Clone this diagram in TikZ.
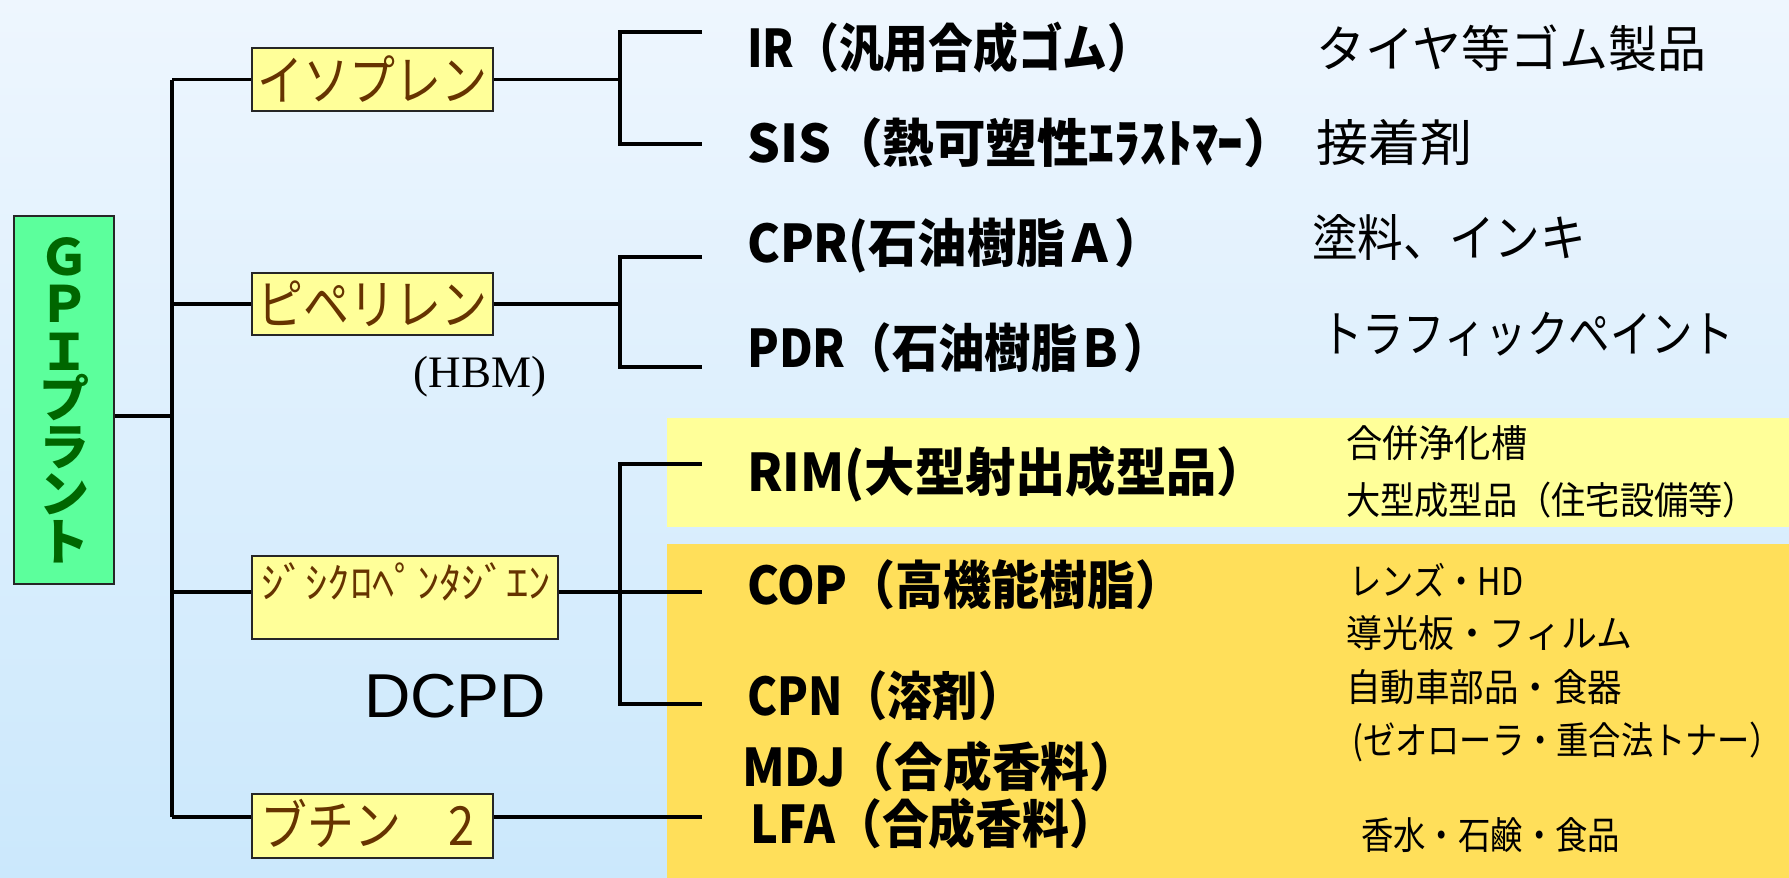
\documentclass[tikz,border=0pt]{standalone}
\usepackage{fontspec}
\usepackage{graphicx}
\newfontfamily\jp{Noto Sans CJK JP}
\newfontfamily\serifen{Liberation Serif}
\newfontfamily\sansen{Liberation Sans}
\newcommand{\fitw}[2]{\resizebox{#1}{\height}{#2}}
\definecolor{bgtop}{HTML}{EEF6FE}
\definecolor{bgbot}{HTML}{CBE8FC}
\definecolor{gpifill}{HTML}{5CFF9C}
\definecolor{gpitext}{HTML}{006600}
\definecolor{boxyel}{HTML}{FFFF99}
\definecolor{boxtext}{HTML}{663300}
\definecolor{bandA}{HTML}{FFFF99}
\definecolor{bandB}{HTML}{FFDF5A}
\tikzset{
  conn/.style={line width=3.6pt, draw=black, line join=miter},
  srcbox/.style={draw=black!85, line width=1.5pt, fill=boxyel, text=boxtext, inner sep=0pt,
    minimum width=241pt, font=\jp\fontsize{54}{54}\selectfont},
  prod/.style={anchor=west, inner sep=0pt, font=\jp\bfseries\fontsize{52}{52}\selectfont},
  usebig/.style={anchor=west, inner sep=0pt, font=\jp\fontsize{50}{50}\selectfont},
  usesmall/.style={anchor=west, inner sep=0pt, font=\jp\fontsize{38}{38}\selectfont},
}
\begin{document}
\begin{tikzpicture}[x=1pt,y=-1pt]
\useasboundingbox (0,0) rectangle (1789,878);
\shade[top color=bgtop, middle color=white, bottom color=bgbot] (0,0) rectangle (1789,878);
% bands
\fill[bandA] (667,418) rectangle (1789,527);
\fill[bandB] (667,544) rectangle (1789,878);

% root
\node[draw=black!85, line width=1.5pt, fill=gpifill, text=gpitext, minimum width=100pt, minimum height=368pt,
  inner sep=0pt, align=center, font=\jp\bfseries\fontsize{50}{47.5}\selectfont] (gpi) at (64,400)
  {Ｇ\\Ｐ\\Ｉ\\プ\\ラ\\ン\\ト};

% source boxes
\node[srcbox, minimum height=63pt] (iso) at (372.5,79.5) {\fitw{230pt}{イソプレン}};
\node[srcbox, minimum height=62pt] (pip) at (372.5,304) {\fitw{230pt}{ピペリレン}};
\node[srcbox, minimum width=306pt, minimum height=83pt] (dcp) at (405,597.5) {};
\node[inner sep=0pt, text=boxtext, font=\jp\fontsize{42}{42}\selectfont] (dcpt) at (406,582) {\fitw{290pt}{ｼﾞｼｸﾛﾍﾟﾝﾀｼﾞｴﾝ}};
\node[srcbox, minimum height=64pt] (but) at (372.5,826) {};
\node[anchor=west, inner sep=0pt, text=boxtext, font=\jp\fontsize{54}{54}\selectfont] (butt) at (260,823) {\fitw{214pt}{ブチン　2}};

\node[inner sep=0pt, font=\serifen\fontsize{45}{45}\selectfont] (hbm) at (480,377) {(HBM)};
\node[inner sep=0pt, font=\sansen\fontsize{62}{62}\selectfont] (dcpd) at (455,696) {\fitw{182pt}{DCPD}};

% trunk coordinates
\coordinate (tI) at (172,79.5);
\coordinate (tP) at (172,304);
\coordinate (tD) at (172,592);
\coordinate (tB) at (172,817);
\coordinate (tG) at (172,416);
\draw[conn] (tI) -- (tB);
\draw[conn] (tI) -- (iso.west);
\draw[conn] (tP) -- (pip.west);
\draw[conn] (tD) -- (dcp.west |- tD);
\draw[conn] (tB) -- (but.west |- tB);
\draw[conn] (gpi.east |- tG) -- (tG);

% second level
\coordinate (jI) at (620,79.5);
\coordinate (jIa) at (620,32);  \coordinate (eIa) at (702,32);
\coordinate (jIb) at (620,144); \coordinate (eIb) at (702,144);
\draw[conn] (iso.east) -- (jI);
\draw[conn] (eIa) -- (jIa) -- (jIb) -- (eIb);

\coordinate (jP) at (620,304);
\coordinate (jPa) at (620,257); \coordinate (ePa) at (702,257);
\coordinate (jPb) at (620,367); \coordinate (ePb) at (702,367);
\draw[conn] (pip.east) -- (jP);
\draw[conn] (ePa) -- (jPa) -- (jPb) -- (ePb);

\coordinate (jD) at (620,592); \coordinate (eD) at (702,592);
\coordinate (jDa) at (620,464); \coordinate (eDa) at (702,464);
\coordinate (jDb) at (620,704); \coordinate (eDb) at (702,704);
\draw[conn] (dcp.east |- jD) -- (eD);
\draw[conn] (eDa) -- (jDa) -- (jDb) -- (eDb);

\coordinate (eB) at (702,817);
\draw[conn] (but.east |- eB) -- (eB);

% products
\node[prod] (ir)  at (747,48)  {\fitw{405pt}{IR（汎用合成ゴム）}};
\node[prod] (sis) at (747,143) {\fitw{548pt}{SIS（熱可塑性ｴﾗｽﾄﾏｰ）}};
\node[prod] (cpr) at (747,245) {\fitw{417pt}{CPR(石油樹脂Ａ）}};
\node[prod] (pdr) at (747,348) {\fitw{423pt}{PDR（石油樹脂Ｂ）}};
\node[prod] (rim) at (747,474) {\fitw{520pt}{RIM(大型射出成型品）}};
\node[prod] (cop) at (747,585) {\fitw{436pt}{COP（高機能樹脂）}};
\node[prod] (cpn) at (747,696) {\fitw{276pt}{CPN（溶剤）}};
\node[prod] (mdj) at (742,767) {\fitw{396pt}{MDJ（合成香料）}};
\node[prod] (lfa) at (750,824) {\fitw{366pt}{LFA（合成香料）}};

% uses
\node[usebig] (u1) at (1316,48)  {\fitw{390pt}{タイヤ等ゴム製品}};
\node[usebig] (u2) at (1316,143) {\fitw{156pt}{接着剤}};
\node[usebig] (u3) at (1312,237) {\fitw{274pt}{塗料、インキ}};
\node[usebig] (u4) at (1321,334) {\fitw{413pt}{トラフィックペイント}};
\node[usesmall] (u5) at (1346,443) {\fitw{181pt}{合併浄化槽}};
\node[usesmall] (u6) at (1346,500) {\fitw{411pt}{大型成型品（住宅設備等）}};
\node[usesmall] (u7) at (1349,580) {\fitw{174pt}{レンズ・HD}};
\node[usesmall] (u8) at (1346,633) {\fitw{286pt}{導光板・フィルム}};
\node[usesmall] (u9) at (1346,687) {\fitw{276pt}{自動車部品・食器}};
\node[usesmall] (u10) at (1352,742) {\fitw{430pt}{(ゼオローラ・重合法トナー）}};
\node[usesmall] (u11) at (1361,835) {\fitw{259pt}{香水・石鹸・食品}};
\end{tikzpicture}
\end{document}
